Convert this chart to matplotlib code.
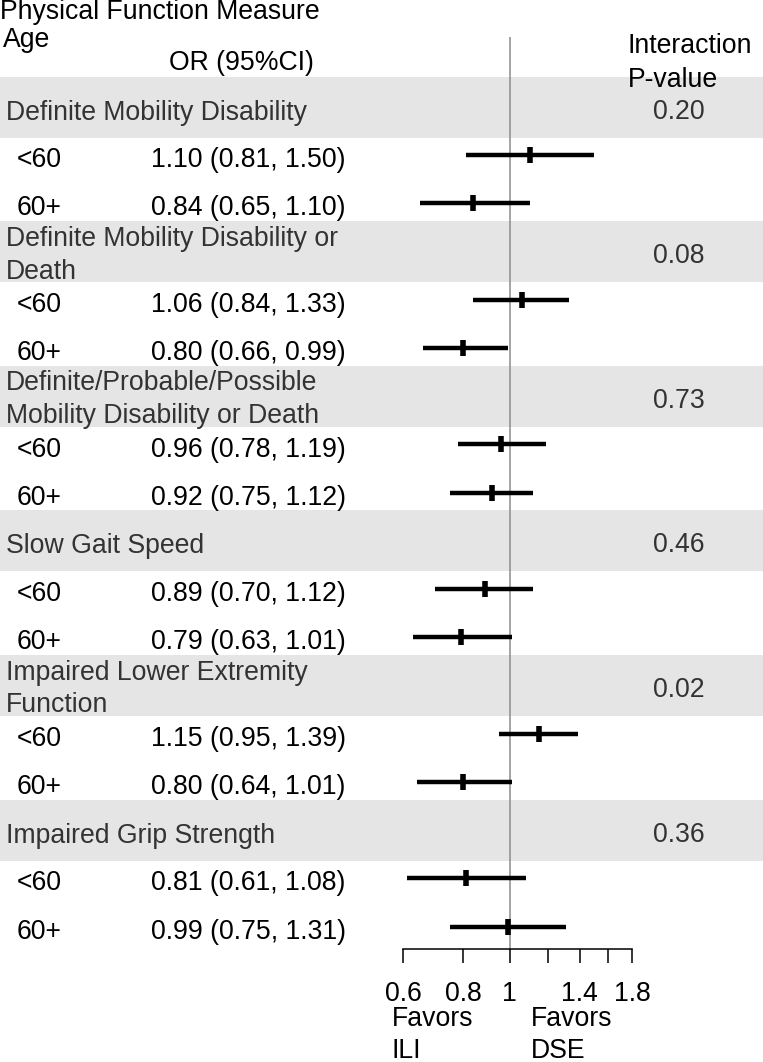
import matplotlib
matplotlib.use("Agg")
import matplotlib.pyplot as plt
import matplotlib.transforms as mtransforms

# forest plot data: odds ratios by age group, per physical function measure
groups = ["Definite Mobility Disability",
          "Definite Mobility Disability or\nDeath",
          "Definite/Probable/Possible\nMobility Disability or Death",
          "Slow Gait Speed",
          "Impaired Lower Extremity\nFunction",
          "Impaired Grip Strength"]
p_values = ["0.20", "0.08", "0.73", "0.46", "0.02", "0.36"]
ages = ["<60", "60+"]
or_est = [[1.10, 0.84], [1.06, 0.80], [0.96, 0.92], [0.89, 0.79], [1.15, 0.80], [0.81, 0.99]]
ci_low = [[0.81, 0.65], [0.84, 0.66], [0.78, 0.75], [0.70, 0.63], [0.95, 0.64], [0.61, 0.75]]
ci_high = [[1.50, 1.10], [1.33, 0.99], [1.19, 1.12], [1.12, 1.01], [1.39, 1.01], [1.08, 1.31]]
ticks = [0.6, 0.8, 1, 1.2, 1.4, 1.6, 1.8]
tick_labels = ["0.6", "0.8", "1", "", "1.4", "", "1.8"]

plt.rcParams['font.family'] = ['Liberation Sans', 'DejaVu Sans']
FS = 19.2
W, H = 763, 1062

fig = plt.figure(figsize=(W / 100, H / 100), dpi=100)
ax = fig.add_axes([0, 0, 1, 1])
ax.set_xscale('log')
ax.set_xlim(0.0866, 3.372)
ax.set_ylim(19.81, -2.22)
ax.axis('off')

# x in pixels, y in rows
tr = mtransforms.blended_transform_factory(ax.transAxes, ax.transData)


def put(xpx, y, s, color='black', ha='left'):
    ax.text(xpx / W, y, s, transform=tr, fontsize=FS, color=color, ha=ha, va='baseline')


def put_lines(xpx, y_first, s, gap, color='black'):
    for i, line in enumerate(s.split('\n')):
        put(xpx, y_first + i * gap, line, color)


# header
put(0, -1.826, "Physical Function Measure")
put(3, -1.245, "Age")
put(169, -0.768, "OR (95%CI)")
put(628, -1.12, "Interaction")
put(628, -0.415, "P-value")

ax.vlines(1, -1.45, 17.47, color='#8c8c8c', lw=1.1, zorder=1)

for g, name in enumerate(groups):
    head = 3 * g
    ax.axhspan(head - 0.633, head + 0.633, color='#e5e5e5', lw=0, zorder=0)
    if '\n' in name:
        put_lines(6, head - 0.12, name, 0.68, '#333333')
    else:
        put(6, head + 0.26, name, '#333333')
    put(679, head + 0.24, p_values[g], '#333333', ha='center')
    for k, age in enumerate(ages):
        y = head + 1 + k
        put(17, y + 0.25, age)
        put(151, y + 0.25, f"{or_est[g][k]:.2f} ({ci_low[g][k]:.2f}, {ci_high[g][k]:.2f})")
        ax.plot([ci_low[g][k], ci_high[g][k]], [y, y], color='black', lw=3.2,
                solid_capstyle='butt', zorder=3)
        ax.plot(or_est[g][k], y, marker='|', color='black', markersize=11, mew=4, zorder=4)

# x axis drawn by hand under the plot
ax.plot([ticks[0], ticks[-1]], [17.47, 17.47], color='black', lw=1.1)
ax.vlines(ticks, 17.47, 17.76, color='black', lw=1.1)
for t, lab in zip(ticks, tick_labels):
    ax.text(t, 18.54, lab, fontsize=FS, ha='center', va='baseline')

put_lines(392, 19.06, "Favors\nILI", 0.66)
put_lines(531, 19.06, "Favors\nDSE", 0.66)

fig.savefig("out.png", dpi=100)
